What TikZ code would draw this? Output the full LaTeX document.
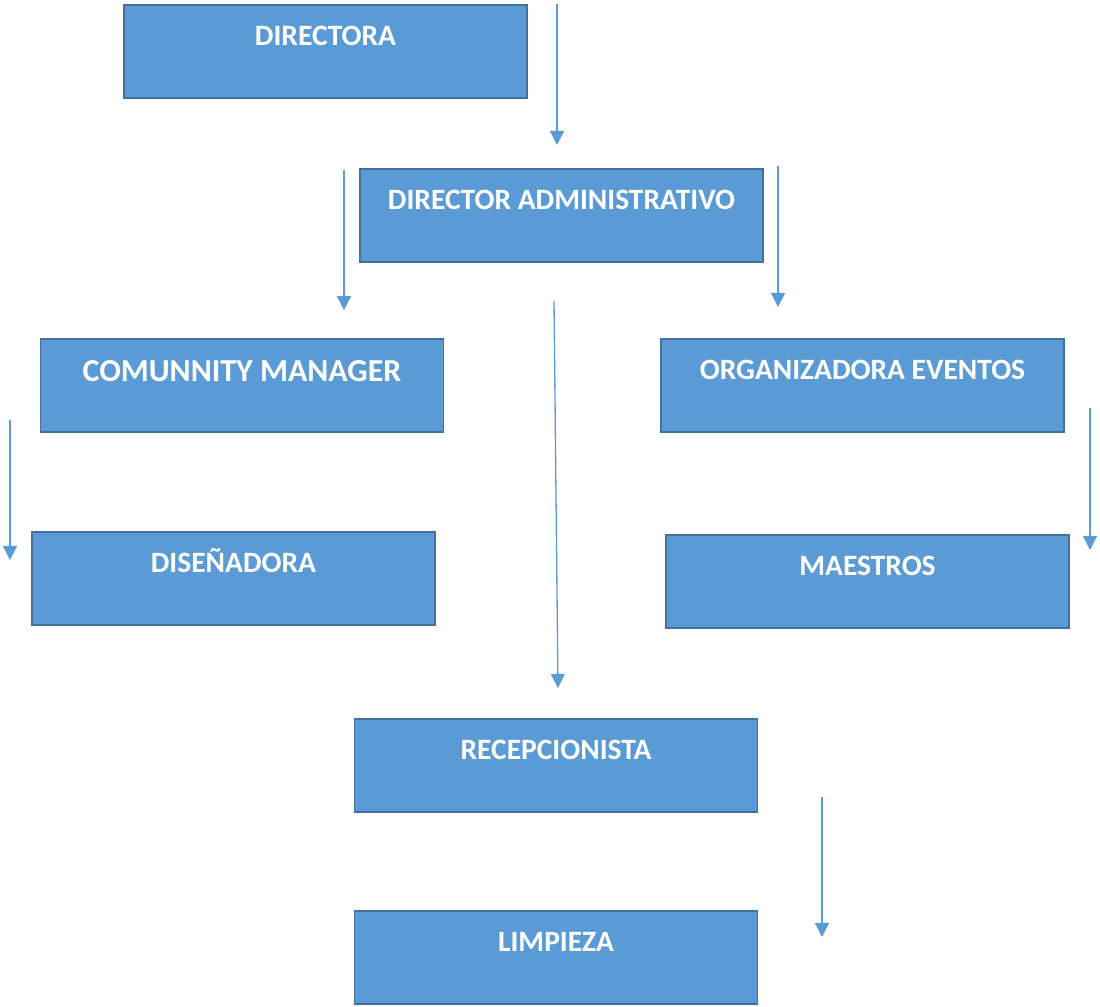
\documentclass[tikz,border=0pt]{standalone}
\usepackage{fontspec}
\setmainfont{Carlito}
\usetikzlibrary{arrows.meta}
\usepackage{xcolor}
\definecolor{boxBlue}{RGB}{91,155,213}
\definecolor{boxEdge}{RGB}{65,113,156}

\tikzset{
    puesto/.style = {rectangle, anchor=north, fill=boxBlue, draw=boxEdge,
        line width=0.9pt, inner sep=0pt, minimum width=8.06cm,
        text height=0.82cm, text depth=1.04cm, text=white,
        font=\fontsize{16.8}{18}\selectfont\bfseries},
    flecha/.style = {boxBlue, line width=0.75pt,
        -{Triangle[width=8pt,length=8pt]}}
}

\begin{document}
\begin{tikzpicture}[x=0.02cm, y=-0.02cm]
    \useasboundingbox (0,0) rectangle (1100,1007);

    % boxes
    \node[puesto] (directora)  at (325.5,4)   {DIRECTORA};
    \node[puesto] (diradmin)   at (561.5,168) {DIRECTOR ADMINISTRATIVO};
    \node[puesto, text height=0.86cm, text depth=1.0cm,
          font=\fontsize{18.2}{20}\selectfont\bfseries]
                  (community)  at (242,338)   {COMUNNITY MANAGER};
    \node[puesto] (eventos)    at (862.5,338) {ORGANIZADORA EVENTOS};
    \node[puesto] (disenadora) at (233.5,531) {DISEÑADORA};
    \node[puesto] (maestros)   at (867.5,534) {MAESTROS};
    \node[puesto] (recepcion)  at (556,718)   {RECEPCIONISTA};
    \node[puesto] (limpieza)   at (556,910)   {LIMPIEZA};

    % arrows, they float beside the boxes
    \coordinate (a1) at (557,4);   \coordinate (b1) at (557,145);
    \coordinate (a2) at (344,170); \coordinate (b2) at (344,310);
    \coordinate (a3) at (778,166); \coordinate (b3) at (778,307);
    \coordinate (a4) at (554,301); \coordinate (b4) at (558,688);
    \coordinate (a5) at (10,420);  \coordinate (b5) at (10,560);
    \coordinate (a6) at (1090,408);\coordinate (b6) at (1090,550);
    \coordinate (a7) at (822,797); \coordinate (b7) at (822,937);

    \foreach \i in {1,...,7}
        \draw[flecha] (a\i) -- (b\i);
\end{tikzpicture}
\end{document}
